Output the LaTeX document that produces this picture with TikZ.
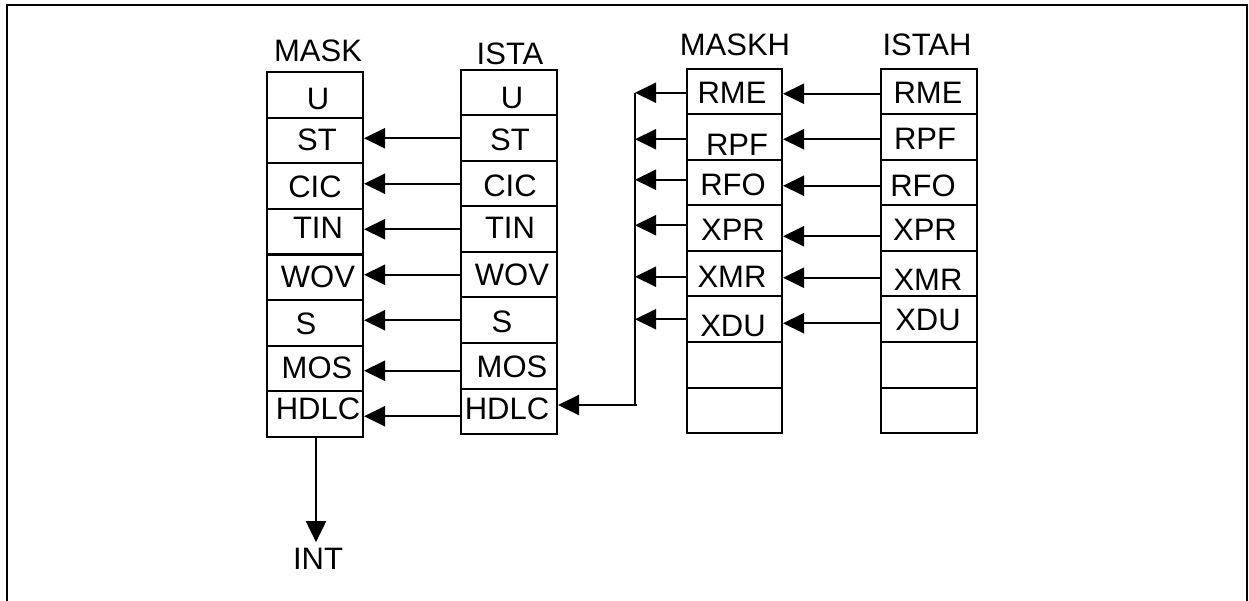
\documentclass[tikz,border=0pt]{standalone}
\usepackage{fontspec}
\setmainfont{Liberation Sans}
\usetikzlibrary{arrows.meta}
\begin{document}
\begin{tikzpicture}[x=1pt,y=-1pt,
  cell/.style={draw,line width=2pt,inner sep=0pt,minimum width=96pt,minimum height=45.5pt},
  lbl/.style={inner sep=0pt,font=\fontsize{31}{31}\selectfont},
  arr/.style={line width=2pt,-{Triangle[length=21pt,width=20pt]}},
  plain/.style={line width=2pt},
  frame/.style={line width=2.5pt}]
\useasboundingbox (0,0) rectangle (1249,601);
\draw[frame] (7,601) -- (7,5) -- (1247,5) -- (1247,601);

% cells
\foreach \i in {1,...,8} {
  \node[cell,minimum height=45.6pt] (m\i) at (315,{72+45.625*(\i-0.5)}) {};
  \node[cell] (i\i) at (509,{70+45.5*(\i-0.5)}) {};
  \node[cell,minimum width=95pt] (h\i) at (734.5,{69+45.5*(\i-0.5)}) {};
  \node[cell] (s\i) at (929,{69+45.5*(\i-0.5)}) {};
}

% titles
\node[lbl] (tmask) at (318,51) {MASK};
\node[lbl] (tista) at (510,54) {ISTA};
\node[lbl] (tmaskh) at (735,45) {MASKH};
\node[lbl] (tistah) at (927,45) {ISTAH};

% MASK labels
\foreach \t/\x/\y [count=\k] in {U/318/98.5,ST/317/140,CIC/315/187,TIN/318/228,WOV/318/276.5,S/306/324,MOS/317/368,HDLC/318/409}
  \node[lbl] (ml\k) at (\x,\y) {\t};
% ISTA labels
\foreach \t/\x/\y [count=\k] in {U/512/97.5,ST/510/139.5,CIC/510/185.5,TIN/510/228,WOV/512/275,S/502/321.5,MOS/512/366.5,HDLC/507/408.5}
  \node[lbl] (il\k) at (\x,\y) {\t};
% MASKH labels
\foreach \t/\x/\y [count=\k] in {RME/732/93,RPF/737/144.5,RFO/733/185,XPR/733/230,XMR/732/276.5,XDU/733/326}
  \node[lbl] (hl\k) at (\x,\y) {\t};
% ISTAH labels
\foreach \t/\x/\y [count=\k] in {RME/928/93,RPF/925/138.5,RFO/923/186,XPR/925/230,XMR/928/280,XDU/928/320}
  \node[lbl] (sl\k) at (\x,\y) {\t};

% ISTA -> MASK
\foreach \i/\s in {2/0,3/0,4/0,5/0,6/0,7/-5,8/-5} {
  \coordinate (a\i) at ([yshift=\s pt]i\i.west);
  \draw[arr] (a\i) -- (m\i.east |- a\i);
}
% ISTAH -> MASKH
\foreach \i/\s in {1/-2,2/-2,3/-3,4/-8,5/-4,6/-4} {
  \coordinate (b\i) at ([yshift=\s pt]s\i.west);
  \draw[arr] (b\i) -- (h\i.east |- b\i);
}
% bus
\coordinate (bt) at (635,93);
\coordinate (bb) at (635,405);
\draw[plain] (bt) -- (bb);
\foreach \i/\s in {1/-1,2/-2,3/3,4/3,5/-3,6/0} {
  \coordinate (c\i) at ([yshift=\s pt]h\i.west);
  \draw[arr] (c\i) -- (bt |- c\i);
}
\draw[arr] ([xshift=2pt]bb) -- (i8.east |- bb);

% INT
\node[lbl] (int) at (318,559) {INT};
\coordinate (it) at ([yshift=6pt]int.north);
\draw[arr] ([xshift=1pt]m8.south) -- ([xshift=1pt]m8.south |- it);
\end{tikzpicture}
\end{document}
